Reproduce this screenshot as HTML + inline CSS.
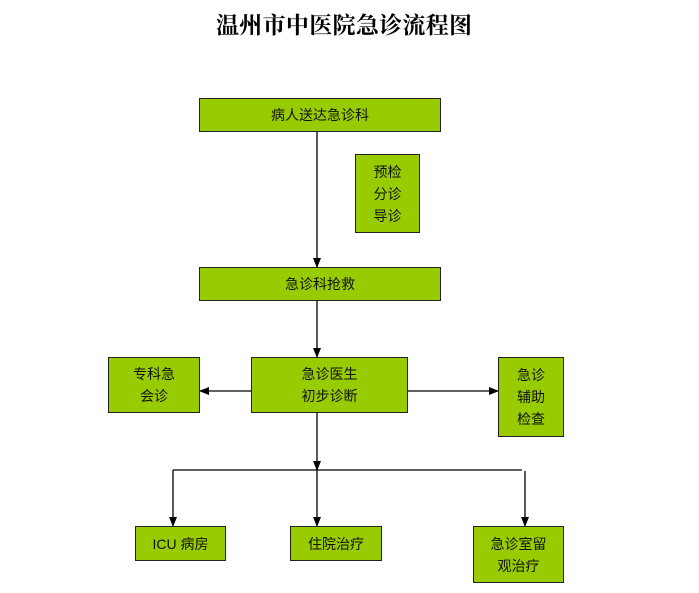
<!DOCTYPE html>
<html><head><meta charset="utf-8"><style>
body{margin:0;width:699px;height:593px;background:#fff;overflow:hidden;position:relative;font-family:"Liberation Sans","Noto Sans CJK SC",sans-serif;}
.b{position:absolute;background:#99cc00;border:1px solid #222;box-sizing:border-box;display:flex;align-items:center;justify-content:center;text-align:center;font-size:14px;line-height:22px;color:#111;}
.t{position:absolute;left:216px;width:260px;top:7px;white-space:nowrap;font-family:"Liberation Serif","Noto Serif CJK SC",serif;font-weight:bold;font-size:23px;letter-spacing:0.3px;}
svg{position:absolute;left:0;top:0}
</style></head><body>
<div class="t">温州市中医院急诊流程图</div>
<svg width="699" height="593">
<defs><marker id="a" markerWidth="10" markerHeight="10" refX="9" refY="5" orient="auto" markerUnits="userSpaceOnUse"><path d="M0,1 L10,5 L0,9z" fill="#000"/></marker></defs>
<g stroke="#000" stroke-width="1.3" fill="none">
<line x1="317" y1="132" x2="317" y2="267" marker-end="url(#a)"/>
<line x1="317" y1="301" x2="317" y2="357" marker-end="url(#a)"/>
<line x1="251" y1="391" x2="200" y2="391" marker-end="url(#a)"/>
<line x1="407" y1="391" x2="498" y2="391" marker-end="url(#a)"/>
<line x1="317" y1="413" x2="317" y2="470" marker-end="url(#a)"/>
<line x1="173" y1="470" x2="522" y2="470"/>
<line x1="173" y1="470" x2="173" y2="526" marker-end="url(#a)"/>
<line x1="317" y1="470" x2="317" y2="526" marker-end="url(#a)"/>
<line x1="525" y1="471" x2="525" y2="526" marker-end="url(#a)"/>
</g></svg>
<div class="b" style="left:199px;top:98px;width:242px;height:34px">病人送达急诊科</div>
<div class="b" style="left:355px;top:154px;width:65px;height:79px">预检<br>分诊<br>导诊</div>
<div class="b" style="left:199px;top:267px;width:242px;height:34px">急诊科抢救</div>
<div class="b" style="left:108px;top:357px;width:92px;height:56px">专科急<br>会诊</div>
<div class="b" style="left:251px;top:357px;width:157px;height:56px">急诊医生<br>初步诊断</div>
<div class="b" style="left:498px;top:357px;width:66px;height:80px">急诊<br>辅助<br>检查</div>
<div class="b" style="left:135px;top:526px;width:91px;height:35px">ICU 病房</div>
<div class="b" style="left:290px;top:526px;width:92px;height:35px">住院治疗</div>
<div class="b" style="left:473px;top:526px;width:91px;height:57px">急诊室留<br>观治疗</div>
</body></html>
